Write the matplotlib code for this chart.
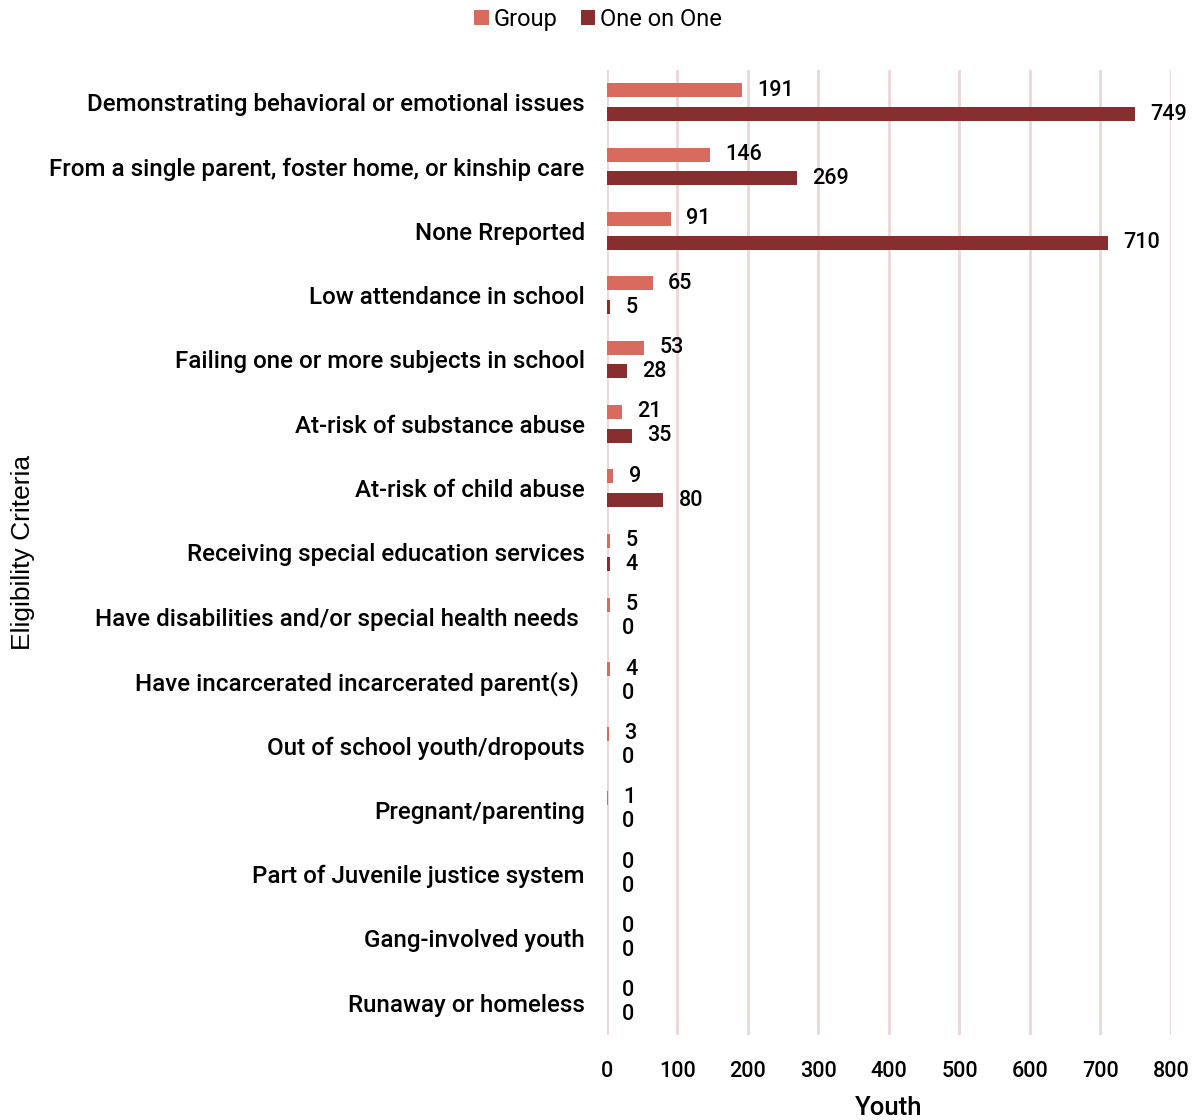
import numpy as np
import matplotlib.pyplot as plt

categories = [
    "Demonstrating behavioral or emotional issues",
    "From a single parent, foster home, or kinship care",
    "None Rreported",
    "Low attendance in school",
    "Failing one or more subjects in school",
    "At-risk of substance abuse",
    "At-risk of child abuse",
    "Receiving special education services",
    "Have disabilities and/or special health needs ",
    "Have incarcerated incarcerated parent(s) ",
    "Out of school youth/dropouts",
    "Pregnant/parenting",
    "Part of Juvenile justice system",
    "Gang-involved youth",
    "Runaway or homeless",
]
group = [191, 146, 91, 65, 53, 21, 9, 5, 5, 4, 3, 1, 0, 0, 0]
one_on_one = [749, 269, 710, 5, 28, 35, 80, 4, 0, 0, 0, 0, 0, 0, 0]
xticks = [0, 100, 200, 300, 400, 500, 600, 700, 800]

c_group = "#d96a5e"
c_one = "#872e2e"
grid_c = "#ecd6d6"

plt.rcParams['font.family'] = ['Roboto', 'DejaVu Sans']

fig = plt.figure(figsize=(11.96, 11.2), dpi=100)
ax = fig.add_axes([0.5075, 0.0759, 0.4716, 0.8616])

y = np.arange(len(categories))
off = 0.186
h = 0.217
b1 = ax.barh(y - off, group, height=h, color=c_group, label="Group", zorder=3)
b2 = ax.barh(y + off, one_on_one, height=h, color=c_one, label="One on One", zorder=3)

# value labels just right of each bar
for bars, vals in ((b1, group), (b2, one_on_one)):
    for bar, v in zip(bars, vals):
        ax.annotate(str(v), (v, bar.get_y() + bar.get_height() / 2),
                    xytext=(11, 0), textcoords="offset points",
                    ha="left", va="center", fontsize=15.5, fontweight="medium",
                    annotation_clip=False)

ax.set_ylim(len(categories) - 0.5, -0.5)
ax.set_xlim(0, 800)
ax.set_xticks(xticks)
ax.set_yticks(y)
ax.set_yticklabels(categories, fontsize=17.4, fontweight="medium")
ax.tick_params(axis="both", length=0)
ax.tick_params(axis="y", pad=16)
ax.tick_params(axis="x", pad=19, labelsize=15.5)
for lab in ax.get_xticklabels():
    lab.set_fontweight("medium")
for s in ax.spines.values():
    s.set_visible(False)
ax.grid(axis="x", color=grid_c, linewidth=2, zorder=0)

ax.set_xlabel("Youth", fontsize=18.5, fontweight="medium", labelpad=10)
fig.text(0.019, 0.507, "Eligibility Criteria", rotation=90, ha="center", va="center",
         fontsize=19, family="Liberation Sans")

fig.legend(handles=[b1, b2], loc="upper center", bbox_to_anchor=(0.5, 1.012),
           ncol=2, frameon=False, fontsize=17, handlelength=0.6, handleheight=0.6,
           handletextpad=0.2, columnspacing=1.0)

fig.savefig("out.png", dpi=100)
